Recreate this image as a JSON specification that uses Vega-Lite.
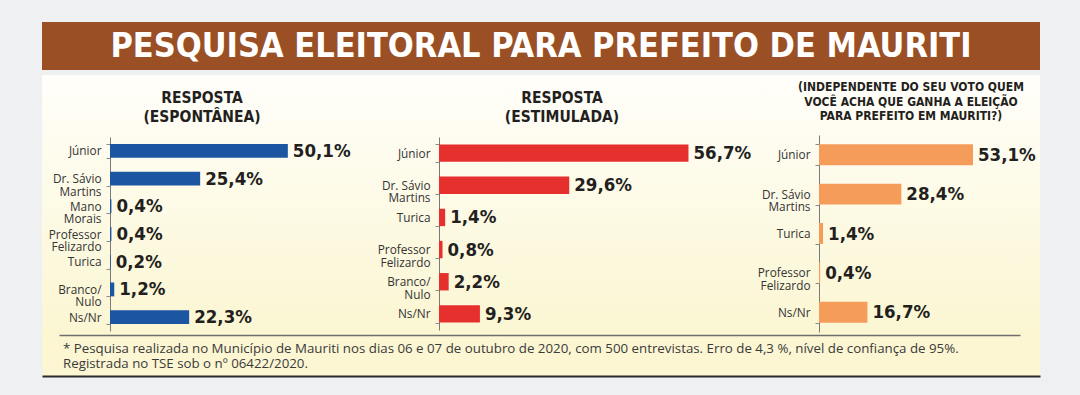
{
  "$schema": "https://vega.github.io/schema/vega-lite/v6.json",
  "background": "#eef0f1",
  "padding": {"left": 42, "top": 22, "right": 40, "bottom": 19},
  "config": {
    "view": {"stroke": null},
    "concat": {"spacing": 0},
    "title": {"font": "DejaVu Sans Condensed", "fontWeight": "bold", "color": "#231f20", "anchor": "middle", "frame": "group"},
    "axisY": {
      "grid": false,
      "labelFont": "Open Sans", "labelFontSize": 11.8, "labelColor": "#333333", "labelLineHeight": 12.5,
      "labelPadding": 5, "domainColor": "#7a7a7a", "domainWidth": 1, "tickColor": "#8a8a8a", "tickSize": 4,
      "tickBand": "extent", "labelExpr": "isValid(datum.value) ? split(datum.value, '|') : ''"
    }
  },
  "spacing": 0,
  "vconcat": [
    {
      "width": 998, "height": 48,
      "view": {"fill": "#9a5024", "stroke": null},
      "data": {"values": [{"titulo": "PESQUISA ELEITORAL PARA PREFEITO DE MAURITI"}]},
      "mark": {"type": "text", "font": "DejaVu Sans Condensed", "fontWeight": "bold", "fontSize": 34, "color": "#ffffff", "baseline": "middle", "align": "center", "dy": 1},
      "encoding": {"text": {"field": "titulo"}}
    },
    {
      "spacing": 0,
      "hconcat": [
        {
          "width": 328, "height": 258,
          "view": {"fill": {"gradient": "linear", "x1": 0, "y1": 0, "x2": 0, "y2": 1, "stops": [{"offset": 0, "color": "#fffefa"}, {"offset": 1, "color": "#fbf6d2"}]}, "stroke": null},
          "title": {"text": ["RESPOSTA", "(ESPONTÂNEA)"], "offset": -55, "fontSize": 15.5, "lineHeight": 19, "dx": -4},
          "data": {"values": [
            {"candidato": "Júnior", "pct": 50.1, "rotulo": "50,1%"},
            {"candidato": "Dr. Sávio|Martins", "pct": 25.4, "rotulo": "25,4%"},
            {"candidato": "Mano|Morais", "pct": 0.4, "rotulo": "0,4%"},
            {"candidato": "Professor|Felizardo", "pct": 0.4, "rotulo": "0,4%"},
            {"candidato": "Turica", "pct": 0.2, "rotulo": "0,2%"},
            {"candidato": "Branco/|Nulo", "pct": 1.2, "rotulo": "1,2%"},
            {"candidato": "Ns/Nr", "pct": 22.3, "rotulo": "22,3%"}
          ]},
          "encoding": {
            "y": {"field": "candidato", "type": "nominal", "sort": null, "scale": {"range": [62, 256], "paddingInner": 0.5, "paddingOuter": 0.25}, "axis": {"offset": -68, "title": null}},
            "x": {"field": "pct", "type": "quantitative", "scale": {"domain": [-19.15, 73.24], "nice": false}, "axis": null}
          },
          "layer": [
            {"mark": {"type": "bar", "color": "#1c55a2"}, "encoding": {"x2": {"datum": 0}}},
            {"mark": {"type": "text", "align": "left", "baseline": "middle", "dx": 5, "font": "DejaVu Sans Condensed", "fontWeight": "bold", "fontSize": 18.5, "color": "#231f20"}, "encoding": {"text": {"field": "rotulo"}}}
          ]
        },
        {
          "width": 384, "height": 258,
          "view": {"fill": {"gradient": "linear", "x1": 0, "y1": 0, "x2": 0, "y2": 1, "stops": [{"offset": 0, "color": "#fffefa"}, {"offset": 1, "color": "#fbf6d2"}]}, "stroke": null},
          "title": {"text": ["RESPOSTA", "(ESTIMULADA)"], "offset": -55, "fontSize": 15.5, "lineHeight": 19, "dx": 0},
          "data": {"values": [
            {"candidato": "Júnior", "pct": 56.7, "rotulo": "56,7%"},
            {"candidato": "Dr. Sávio|Martins", "pct": 29.6, "rotulo": "29,6%"},
            {"candidato": "Turica", "pct": 1.4, "rotulo": "1,4%"},
            {"candidato": "Professor|Felizardo", "pct": 0.8, "rotulo": "0,8%"},
            {"candidato": "Branco/|Nulo", "pct": 2.2, "rotulo": "2,2%"},
            {"candidato": "Ns/Nr", "pct": 9.3, "rotulo": "9,3%"}
          ]},
          "encoding": {
            "y": {"field": "candidato", "type": "nominal", "sort": null, "scale": {"range": [62, 255], "paddingInner": 0.46, "paddingOuter": 0.23}, "axis": {"offset": -69, "title": null}},
            "x": {"field": "pct", "type": "quantitative", "scale": {"domain": [-15.68, 71.59], "nice": false}, "axis": null}
          },
          "layer": [
            {"mark": {"type": "bar", "color": "#e6302e"}, "encoding": {"x2": {"datum": 0}}},
            {"mark": {"type": "text", "align": "left", "baseline": "middle", "dx": 5, "font": "DejaVu Sans Condensed", "fontWeight": "bold", "fontSize": 18.5, "color": "#231f20"}, "encoding": {"text": {"field": "rotulo"}}}
          ]
        },
        {
          "width": 286, "height": 258,
          "view": {"fill": {"gradient": "linear", "x1": 0, "y1": 0, "x2": 0, "y2": 1, "stops": [{"offset": 0, "color": "#fffefa"}, {"offset": 1, "color": "#fbf6d2"}]}, "stroke": null},
          "title": {"text": ["(INDEPENDENTE DO SEU VOTO QUEM", "VOCÊ ACHA QUE GANHA A ELEIÇÃO", "PARA PREFEITO EM MAURITI?)"], "offset": -53, "fontSize": 12, "lineHeight": 14.5, "dx": 14},
          "data": {"values": [
            {"candidato": "Júnior", "pct": 53.1, "rotulo": "53,1%"},
            {"candidato": "Dr. Sávio|Martins", "pct": 28.4, "rotulo": "28,4%"},
            {"candidato": "Turica", "pct": 1.4, "rotulo": "1,4%"},
            {"candidato": "Professor|Felizardo", "pct": 0.4, "rotulo": "0,4%"},
            {"candidato": "Ns/Nr", "pct": 16.7, "rotulo": "16,7%"}
          ]},
          "encoding": {
            "y": {"field": "candidato", "type": "nominal", "sort": null, "scale": {"range": [60, 257], "paddingInner": 0.47, "paddingOuter": 0.235}, "axis": {"offset": -65, "title": null}},
            "x": {"field": "pct", "type": "quantitative", "scale": {"domain": [-22.41, 76.21], "nice": false}, "axis": null}
          },
          "layer": [
            {"mark": {"type": "bar", "color": "#f59c5b"}, "encoding": {"x2": {"datum": 0}}},
            {"mark": {"type": "text", "align": "left", "baseline": "middle", "dx": 5, "font": "DejaVu Sans Condensed", "fontWeight": "bold", "fontSize": 18.5, "color": "#231f20"}, "encoding": {"text": {"field": "rotulo"}}}
          ]
        }
      ]
    },
    {
      "width": 998, "height": 43,
      "view": {"fill": "#fcf6d3", "stroke": null},
      "data": {"values": [
        {"linha": 1, "texto": "* Pesquisa realizada no Município de Mauriti nos dias 06 e 07 de outubro de 2020, com 500 entrevistas. Erro de 4,3 %, nível de confiança de 95%."},
        {"linha": 2, "texto": "Registrada no TSE sob o nº 06422/2020."}
      ]},
      "resolve": {"scale": {"x": "independent"}, "axis": {"x": "independent"}},
      "layer": [
        {
          "mark": {"type": "text", "align": "left", "baseline": "middle", "dx": 4, "font": "Open Sans", "fontSize": 13.3, "color": "#3a3a3a"},
          "encoding": {
            "x": {"datum": 0, "type": "quantitative", "scale": {"domain": [0, 1], "range": [17, 978]}, "axis": {"orient": "top", "offset": -2, "domain": true, "domainColor": "#6e6e6e", "domainWidth": 1.5, "ticks": false, "labels": false, "grid": false, "title": null}},
            "y": {"field": "linha", "type": "ordinal", "scale": {"type": "point", "range": [16, 31], "padding": 0}, "axis": null},
            "text": {"field": "texto"}
          }
        },
        {
          "mark": {"type": "text", "opacity": 0, "align": "left", "fontSize": 10},
          "encoding": {
            "x": {"datum": 0, "type": "quantitative", "scale": {"domain": [0, 1]}, "axis": {"orient": "bottom", "domain": true, "domainColor": "#2b2b2b", "domainWidth": 2, "ticks": false, "labels": false, "grid": false, "title": null}},
            "y": {"field": "linha", "type": "ordinal", "scale": {"type": "point", "range": [16, 31], "padding": 0}, "axis": null},
            "text": {"field": "texto"}
          }
        }
      ]
    }
  ]
}
